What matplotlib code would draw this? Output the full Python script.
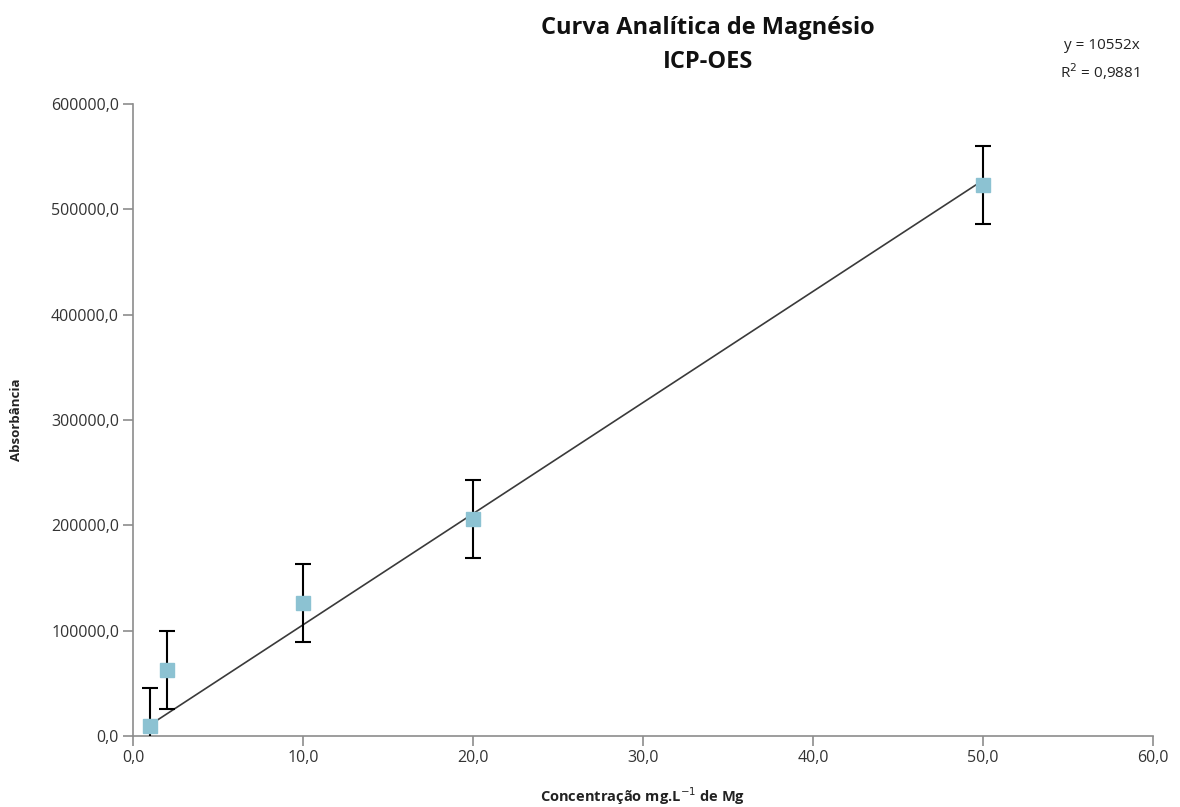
import numpy as np
import matplotlib.pyplot as plt
from matplotlib.ticker import FuncFormatter

# Dados da curva
conc = [1, 2, 10, 20, 50]
absorb = [9500, 62700, 126300, 206000, 523300]
erro = [36000, 36600, 37000, 36600, 37000]
slope = 10552
r2 = "0,9881"

plt.rcParams['font.family'] = ['Open Sans', 'DejaVu Sans']

fig = plt.figure(figsize=(11.8, 8.07), dpi=100)
ax = fig.add_axes([133 / 1180, 1 - 736 / 807, 1020 / 1180, 632 / 807])

# linha de tendencia
xt = np.array([min(conc), max(conc)])
ax.plot(xt, slope * xt, color='#3a3a3a', linewidth=1.2, zorder=2)

ax.errorbar(conc, absorb, yerr=erro, fmt='none', ecolor='black',
            elinewidth=1.5, capsize=6, capthick=1.5, zorder=3)
ax.plot(conc, absorb, 's', color='#8cc2d2', markersize=10, zorder=4)

ax.set_xlim(0, 60)
ax.set_ylim(0, 600000)
ax.set_xticks(np.arange(0, 61, 10))
ax.set_yticks(np.arange(0, 600001, 100000))
fmt = FuncFormatter(lambda v, p: f"{v:.1f}".replace('.', ','))
ax.xaxis.set_major_formatter(fmt)
ax.yaxis.set_major_formatter(fmt)

for s in ['top', 'right']:
    ax.spines[s].set_visible(False)
for s in ['left', 'bottom']:
    ax.spines[s].set_color('#8c8c8c')
    ax.spines[s].set_linewidth(1.2)
ax.tick_params(colors='#8c8c8c', length=7, width=1.2, labelsize=11.5,
               labelcolor='#333333', pad=3)

ax.set_xlabel("Concentração mg.L$^{-1}$ de Mg", fontsize=10.5, fontweight='bold',
              color='#222222', labelpad=14)
ax.set_ylabel("Absorbância", fontsize=9.5, fontweight='bold', color='#222222',
              labelpad=20)

fig.text(0.6, 0.965, "Curva Analítica de Magnésio", ha='center', va='center',
         fontsize=17, fontweight='bold', color='#111111')
fig.text(0.6, 0.923, "ICP-OES", ha='center', va='center',
         fontsize=17, fontweight='bold', color='#111111')
fig.text(0.966, 0.926, "y = " + str(slope) + "x\nR$^2$ = " + r2, ha='right', va='center',
         fontsize=11, color='#222222', linespacing=1.5)

plt.savefig('out.png', dpi=100)
